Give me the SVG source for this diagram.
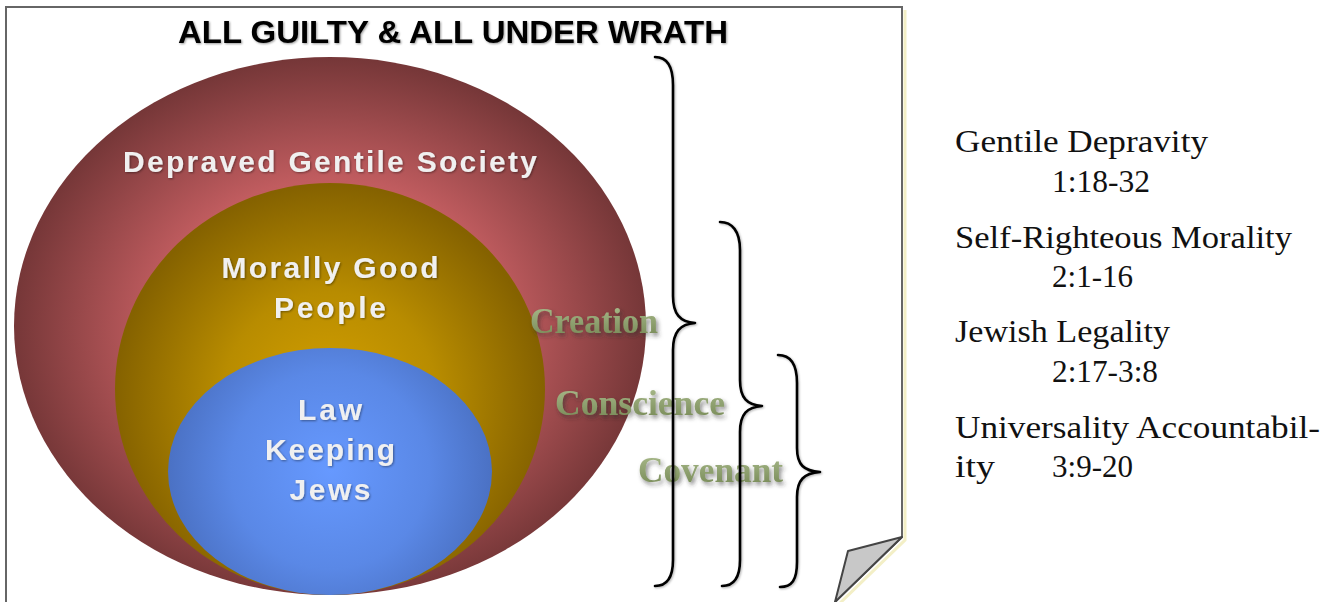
<svg xmlns="http://www.w3.org/2000/svg" width="1329" height="602" viewBox="0 0 1329 602">
<defs>
<radialGradient id="gOuter" cx="330" cy="330" r="320" gradientUnits="userSpaceOnUse" gradientTransform="translate(330 330) scale(1 0.86) translate(-330 -330)">
<stop offset="0" stop-color="#e07a7a"/>
<stop offset="0.55" stop-color="#c05c5f"/>
<stop offset="1" stop-color="#743637"/>
</radialGradient>
<radialGradient id="gMid" cx="330" cy="400" r="215" gradientUnits="userSpaceOnUse">
<stop offset="0" stop-color="#d4a000"/>
<stop offset="0.5" stop-color="#b88c00"/>
<stop offset="1" stop-color="#856200"/>
</radialGradient>
<radialGradient id="gIn" cx="330" cy="470" r="165" gradientUnits="userSpaceOnUse">
<stop offset="0" stop-color="#6699ff"/>
<stop offset="0.6" stop-color="#5a88e6"/>
<stop offset="1" stop-color="#4a70c2"/>
</radialGradient>
<linearGradient id="gGreen" x1="0" y1="0" x2="0" y2="1">
<stop offset="0" stop-color="#aebf90"/>
<stop offset="1" stop-color="#728552"/>
</linearGradient>
<filter id="shadow" x="-10%" y="-20%" width="130%" height="160%">
<feDropShadow dx="2" dy="3" stdDeviation="2" flood-color="#333" flood-opacity="0.55"/>
</filter>
<filter id="soft" x="-10%" y="-20%" width="130%" height="160%">
<feDropShadow dx="1" dy="1" stdDeviation="1" flood-color="#000" flood-opacity="0.4"/>
</filter>
<filter id="braceShadow" x="-50%" y="-5%" width="200%" height="110%">
<feDropShadow dx="1" dy="1" stdDeviation="1" flood-color="#000" flood-opacity="0.3"/>
</filter>
</defs>
<style>
.title{font-family:"Liberation Sans",Arial,sans-serif;font-weight:bold;font-size:32px;fill:#000;}
.lbl{font-family:"Liberation Sans",Arial,sans-serif;font-weight:bold;font-size:30px;fill:#f0f0f0;text-anchor:middle;}
.grn{font-family:"Liberation Serif","Times New Roman",serif;font-weight:bold;font-size:36px;fill:url(#gGreen);}
.side{font-family:"Liberation Serif","Times New Roman",serif;font-size:31px;fill:#111;}
.brace{fill:none;stroke:#000;stroke-width:2.6;stroke-linecap:round;stroke-linejoin:round;}
</style>
<rect width="1329" height="602" fill="#fff"/>
<g id="page">
<path d="M905,10 L905,540 L838,605" fill="none" stroke="#f3efc6" stroke-width="3"/>
<path d="M6,602 L6,7 L902,7 L902,537 L835,602" fill="none" stroke="#666" stroke-width="2"/>
<path d="M902,537 L848,551 L835,602 Z" fill="#c8c8c8" stroke="#444" stroke-width="2" stroke-linejoin="round"/>
</g>
<g id="title">
<text class="title" x="178" y="43" textLength="550" lengthAdjust="spacingAndGlyphs" filter="url(#soft)">ALL GUILTY &amp; ALL UNDER WRATH</text>
</g>
<g id="outer">
<ellipse cx="330" cy="326" rx="316" ry="269" fill="url(#gOuter)"/>
<text class="lbl" x="330" y="172" textLength="414" filter="url(#soft)">Depraved Gentile Society</text>
</g>
<g id="middle">
<ellipse cx="330" cy="389" rx="215" ry="206" fill="url(#gMid)"/>
<text class="lbl" x="330" y="278" textLength="217" filter="url(#soft)">Morally Good</text>
<text class="lbl" x="330" y="318" textLength="112" filter="url(#soft)">People</text>
</g>
<g id="inner">
<ellipse cx="330" cy="471.5" rx="162" ry="123.5" fill="url(#gIn)"/>
<text class="lbl" x="330" y="420" textLength="64" filter="url(#soft)">Law</text>
<text class="lbl" x="330" y="460" textLength="130" filter="url(#soft)">Keeping</text>
<text class="lbl" x="330" y="500" textLength="81" filter="url(#soft)">Jews</text>
</g>
<g id="revelation">
<text class="grn" x="530" y="333" textLength="128" lengthAdjust="spacingAndGlyphs" filter="url(#shadow)">Creation</text>
<text class="grn" x="555" y="415" textLength="170" lengthAdjust="spacingAndGlyphs" filter="url(#shadow)">Conscience</text>
<text class="grn" x="638" y="482" textLength="145" lengthAdjust="spacingAndGlyphs" filter="url(#shadow)">Covenant</text>
</g>
<g id="connectors" filter="url(#braceShadow)">
<path class="brace" d="M655,57 C667,57 673,66 673,85 L673,296 C673,314 680,322 695,323 C680,324 673,332 673,350 L673,560 C673,578 667,586 655,586"/>
<path class="brace" d="M720,222 C732,222 740,231 740,250 L740,380 C740,398 747,405 762,406 C747,407 740,414 740,432 L740,560 C740,578 734,586 722,586"/>
<path class="brace" d="M778,355 C790,355 797,364 797,383 L797,448 C797,465 804,471 820,472 C804,473 797,480 797,497 L797,562 C797,580 792,587 780,587"/>
</g>
<g id="sidebar">
<text class="side" x="955" y="152" textLength="253" lengthAdjust="spacingAndGlyphs">Gentile Depravity</text>
<text class="side" x="1052" y="192" textLength="98" lengthAdjust="spacingAndGlyphs">1:18-32</text>
<text class="side" x="955" y="248" textLength="337" lengthAdjust="spacingAndGlyphs">Self-Righteous Morality</text>
<text class="side" x="1052" y="287" textLength="81" lengthAdjust="spacingAndGlyphs">2:1-16</text>
<text class="side" x="955" y="342" textLength="215" lengthAdjust="spacingAndGlyphs">Jewish Legality</text>
<text class="side" x="1052" y="382" textLength="106" lengthAdjust="spacingAndGlyphs">2:17-3:8</text>
<text class="side" x="955" y="438" textLength="365" lengthAdjust="spacingAndGlyphs">Universality Accountabil-</text>
<text class="side" x="955" y="477" textLength="40" lengthAdjust="spacingAndGlyphs">ity</text>
<text class="side" x="1052" y="477" textLength="81" lengthAdjust="spacingAndGlyphs">3:9-20</text>
</g>
</svg>
